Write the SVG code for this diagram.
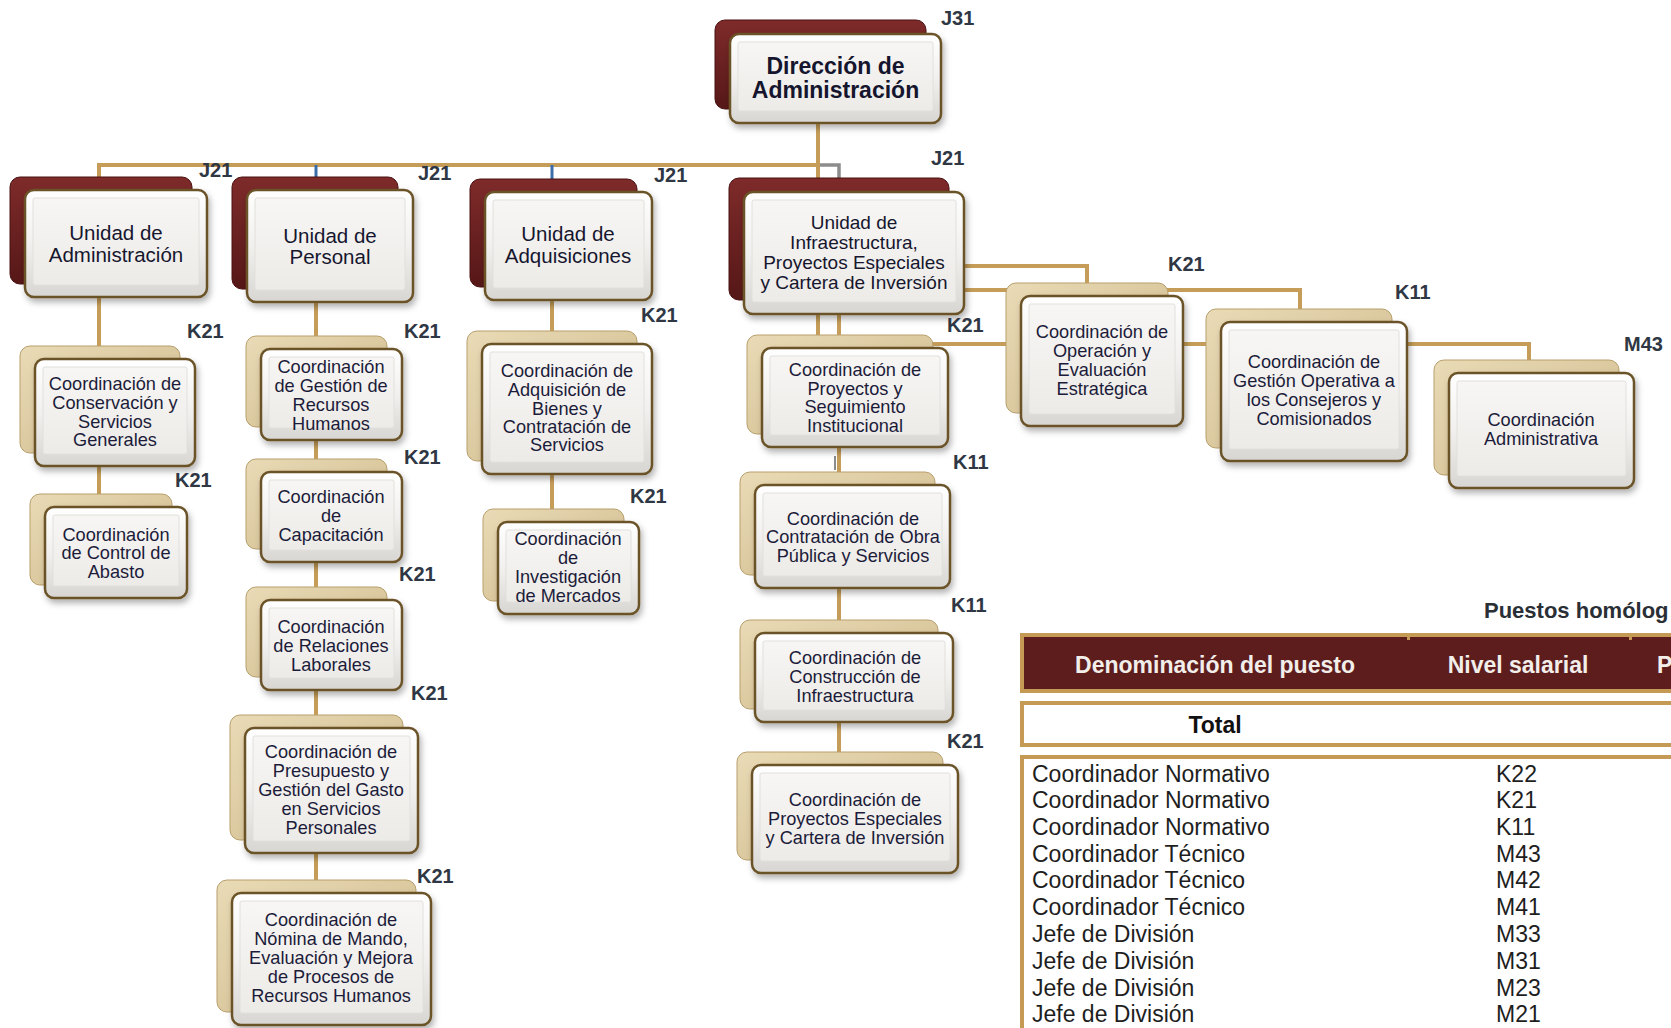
<svg xmlns="http://www.w3.org/2000/svg" width="1671" height="1028" viewBox="0 0 1671 1028">
<defs>
<linearGradient id="gRed" x1="0" y1="0" x2="0" y2="1"><stop offset="0" stop-color="#7e2b2a"/><stop offset="1" stop-color="#561717"/></linearGradient>
<linearGradient id="gTan" x1="0" y1="0" x2="1" y2="1"><stop offset="0" stop-color="#e9dbb6"/><stop offset="0.6" stop-color="#d9c69c"/><stop offset="1" stop-color="#c8b083"/></linearGradient>
<linearGradient id="gFace" x1="0" y1="0" x2="0" y2="1"><stop offset="0" stop-color="#ffffff"/><stop offset="0.5" stop-color="#f1f0ee"/><stop offset="1" stop-color="#d8d6d2"/></linearGradient>
<linearGradient id="gIn" x1="0" y1="0" x2="0" y2="1"><stop offset="0" stop-color="#f7f6f4"/><stop offset="1" stop-color="#ecebe8"/></linearGradient>
<filter id="ds" x="-10%" y="-10%" width="125%" height="130%"><feDropShadow dx="2" dy="4" stdDeviation="3" flood-color="#000" flood-opacity="0.3"/></filter>
<style>
.r{fill:url(#gRed);stroke:#4a1111;stroke-width:1}
.tn{fill:url(#gTan);stroke:#b89f6c;stroke-width:1}
.fc{fill:url(#gFace);stroke:#6b5228;stroke-width:2.5;filter:url(#ds)}
.in{fill:url(#gIn);stroke:#e2e0dc;stroke-width:1}
text{font-family:"Liberation Sans",Arial,sans-serif}
.t1{font-size:23px;font-weight:bold;fill:#15152e;text-anchor:middle}
.u{font-size:20.5px;fill:#16162e;text-anchor:middle}
.u2{font-size:19px;fill:#16162e;text-anchor:middle}
.c{font-size:18.2px;fill:#1c1c3a;text-anchor:middle}
.lbl{font-size:20px;font-weight:bold;fill:#2f3744}
.gl{fill:none;stroke:#c59d58;stroke-width:4}
.bl{fill:none;stroke:#3a6ea8;stroke-width:3}
.gy{fill:none;stroke:#8c8c8c;stroke-width:3.5}
.tb{fill:#fff;stroke:#c49a55;stroke-width:4}
.td{font-size:23px;fill:#1e1e1e}
.th{font-size:23px;font-weight:bold;fill:#f2eeea;text-anchor:middle}
</style>
</defs>
<rect width="1671" height="1028" fill="#fff"/>

<g id="connectors">
<path class="gl" d="M818 123V165H99V200"/>
<path class="bl" d="M316 165V180"/>
<path class="bl" d="M552 165V181"/>
<path class="gy" d="M820 165H839V194"/>
<path class="gl" d="M818 165V194"/>
<path class="gl" d="M99 297V360"/>
<path class="gl" d="M99 466V496"/>
<path class="gl" d="M316 302V895"/>
<path class="gl" d="M552 300V512"/>
<path class="gl" d="M818 312V340"/>
<path class="gl" d="M839 312V344H1529V362"/>
<path class="gl" d="M839 447V768"/>
<path class="gy" d="M835 456V470" style="stroke-width:2"/>
<path class="gl" d="M962 266H1087V285"/>
<path class="gl" d="M962 290H1300V311"/>
</g>

<g id="n-direccion">
<rect class="r" x="715" y="20" width="211" height="89" rx="10"/>
<rect class="fc" x="730" y="34" width="211" height="89" rx="9"/>
<rect class="in" x="738" y="42" width="195" height="69" rx="2"/>
<text class="t1" x="835.5" y="74">Dirección de</text>
<text class="t1" x="835.5" y="98">Administración</text>
</g>

<g id="n-unidad-admin">
<rect class="r" x="10" y="177" width="182" height="107" rx="10"/>
<rect class="fc" x="25" y="190" width="182" height="107" rx="9"/>
<rect class="in" x="33" y="198" width="166" height="87" rx="2"/>
<text class="u" x="116" y="240">Unidad de</text>
<text class="u" x="116" y="262">Administración</text>
</g>

<g id="n-unidad-personal">
<rect class="r" x="232" y="177" width="166" height="112" rx="10"/>
<rect class="fc" x="247" y="190" width="166" height="112" rx="9"/>
<rect class="in" x="255" y="198" width="150" height="92" rx="2"/>
<text class="u" x="330" y="243">Unidad de</text>
<text class="u" x="330" y="264">Personal</text>
</g>

<g id="n-unidad-adq">
<rect class="r" x="470" y="179" width="167" height="108" rx="10"/>
<rect class="fc" x="485" y="192" width="167" height="108" rx="9"/>
<rect class="in" x="493" y="200" width="151" height="88" rx="2"/>
<text class="u" x="568" y="241">Unidad de</text>
<text class="u" x="568" y="263">Adquisiciones</text>
</g>

<g id="n-unidad-infra">
<rect class="r" x="729" y="178" width="220" height="122" rx="10"/>
<rect class="fc" x="744" y="192" width="220" height="122" rx="9"/>
<rect class="in" x="752" y="200" width="204" height="102" rx="2"/>
<text class="u2" x="854" y="229">Unidad de</text>
<text class="u2" x="854" y="249">Infraestructura,</text>
<text class="u2" x="854" y="269">Proyectos Especiales</text>
<text class="u2" x="854" y="289">y Cartera de Inversión</text>
</g>

<g id="n-conservacion">
<rect class="tn" x="20" y="346" width="160" height="107" rx="10"/>
<rect class="fc" x="35" y="359" width="160" height="107" rx="9"/>
<rect class="in" x="43" y="367" width="144" height="87" rx="2"/>
<text class="c" x="115" y="390">Coordinación de</text>
<text class="c" x="115" y="409">Conservación y</text>
<text class="c" x="115" y="428">Servicios</text>
<text class="c" x="115" y="446">Generales</text>
</g>

<g id="n-abasto">
<rect class="tn" x="30" y="494" width="142" height="91" rx="10"/>
<rect class="fc" x="45" y="507" width="142" height="91" rx="9"/>
<rect class="in" x="53" y="515" width="126" height="71" rx="2"/>
<text class="c" x="116" y="541">Coordinación</text>
<text class="c" x="116" y="559">de Control de</text>
<text class="c" x="116" y="578">Abasto</text>
</g>

<g id="n-rrhh">
<rect class="tn" x="246" y="336" width="141" height="91" rx="10"/>
<rect class="fc" x="261" y="349" width="141" height="91" rx="9"/>
<rect class="in" x="269" y="357" width="125" height="71" rx="2"/>
<text class="c" x="331" y="373">Coordinación</text>
<text class="c" x="331" y="392">de Gestión de</text>
<text class="c" x="331" y="411">Recursos</text>
<text class="c" x="331" y="430">Humanos</text>
</g>

<g id="n-capacitacion">
<rect class="tn" x="246" y="459" width="141" height="90" rx="10"/>
<rect class="fc" x="261" y="472" width="141" height="90" rx="9"/>
<rect class="in" x="269" y="480" width="125" height="70" rx="2"/>
<text class="c" x="331" y="503">Coordinación</text>
<text class="c" x="331" y="522">de</text>
<text class="c" x="331" y="541">Capacitación</text>
</g>

<g id="n-relaciones">
<rect class="tn" x="246" y="587" width="141" height="90" rx="10"/>
<rect class="fc" x="261" y="600" width="141" height="90" rx="9"/>
<rect class="in" x="269" y="608" width="125" height="70" rx="2"/>
<text class="c" x="331" y="633">Coordinación</text>
<text class="c" x="331" y="652">de Relaciones</text>
<text class="c" x="331" y="671">Laborales</text>
</g>

<g id="n-presupuesto">
<rect class="tn" x="230" y="715" width="173" height="125" rx="10"/>
<rect class="fc" x="245" y="728" width="173" height="125" rx="9"/>
<rect class="in" x="253" y="736" width="157" height="105" rx="2"/>
<text class="c" x="331" y="758">Coordinación de</text>
<text class="c" x="331" y="777">Presupuesto y</text>
<text class="c" x="331" y="796">Gestión del Gasto</text>
<text class="c" x="331" y="815">en Servicios</text>
<text class="c" x="331" y="834">Personales</text>
</g>

<g id="n-nomina">
<rect class="tn" x="217" y="880" width="199" height="132" rx="10"/>
<rect class="fc" x="232" y="893" width="199" height="132" rx="9"/>
<rect class="in" x="240" y="901" width="183" height="112" rx="2"/>
<text class="c" x="331" y="926">Coordinación de</text>
<text class="c" x="331" y="945">Nómina de Mando,</text>
<text class="c" x="331" y="964">Evaluación y Mejora</text>
<text class="c" x="331" y="983">de Procesos de</text>
<text class="c" x="331" y="1002">Recursos Humanos</text>
</g>

<g id="n-bienes">
<rect class="tn" x="467" y="331" width="170" height="130" rx="10"/>
<rect class="fc" x="482" y="344" width="170" height="130" rx="9"/>
<rect class="in" x="490" y="352" width="154" height="110" rx="2"/>
<text class="c" x="567" y="377">Coordinación de</text>
<text class="c" x="567" y="396">Adquisición de</text>
<text class="c" x="567" y="415">Bienes y</text>
<text class="c" x="567" y="433">Contratación de</text>
<text class="c" x="567" y="451">Servicios</text>
</g>

<g id="n-mercados">
<rect class="tn" x="483" y="509" width="141" height="92" rx="10"/>
<rect class="fc" x="498" y="522" width="141" height="92" rx="9"/>
<rect class="in" x="506" y="530" width="125" height="72" rx="2"/>
<text class="c" x="568" y="545">Coordinación</text>
<text class="c" x="568" y="564">de</text>
<text class="c" x="568" y="583">Investigación</text>
<text class="c" x="568" y="602">de Mercados</text>
</g>

<g id="n-proyectos">
<rect class="tn" x="747" y="335" width="186" height="99" rx="10"/>
<rect class="fc" x="762" y="348" width="186" height="99" rx="9"/>
<rect class="in" x="770" y="356" width="170" height="79" rx="2"/>
<text class="c" x="855" y="376">Coordinación de</text>
<text class="c" x="855" y="395">Proyectos y</text>
<text class="c" x="855" y="413">Seguimiento</text>
<text class="c" x="855" y="432">Institucional</text>
</g>

<g id="n-contratacion">
<rect class="tn" x="740" y="472" width="195" height="103" rx="10"/>
<rect class="fc" x="755" y="485" width="195" height="103" rx="9"/>
<rect class="in" x="763" y="493" width="179" height="83" rx="2"/>
<text class="c" x="853" y="525">Coordinación de</text>
<text class="c" x="853" y="543">Contratación de Obra</text>
<text class="c" x="853" y="562">Pública y Servicios</text>
</g>

<g id="n-construccion">
<rect class="tn" x="740" y="620" width="198" height="89" rx="10"/>
<rect class="fc" x="755" y="633" width="198" height="89" rx="9"/>
<rect class="in" x="763" y="641" width="182" height="69" rx="2"/>
<text class="c" x="855" y="664">Coordinación de</text>
<text class="c" x="855" y="683">Construcción de</text>
<text class="c" x="855" y="702">Infraestructura</text>
</g>

<g id="n-especiales">
<rect class="tn" x="737" y="752" width="206" height="108" rx="10"/>
<rect class="fc" x="752" y="765" width="206" height="108" rx="9"/>
<rect class="in" x="760" y="773" width="190" height="88" rx="2"/>
<text class="c" x="855" y="806">Coordinación de</text>
<text class="c" x="855" y="825">Proyectos Especiales</text>
<text class="c" x="855" y="844">y Cartera de Inversión</text>
</g>

<g id="n-operacion">
<rect class="tn" x="1006" y="283" width="162" height="130" rx="10"/>
<rect class="fc" x="1021" y="296" width="162" height="130" rx="9"/>
<rect class="in" x="1029" y="304" width="146" height="110" rx="2"/>
<text class="c" x="1102" y="338">Coordinación de</text>
<text class="c" x="1102" y="357">Operación y</text>
<text class="c" x="1102" y="376">Evaluación</text>
<text class="c" x="1102" y="395">Estratégica</text>
</g>

<g id="n-gestion-op">
<rect class="tn" x="1206" y="309" width="186" height="139" rx="10"/>
<rect class="fc" x="1221" y="322" width="186" height="139" rx="9"/>
<rect class="in" x="1229" y="330" width="170" height="119" rx="2"/>
<text class="c" x="1314" y="368">Coordinación de</text>
<text class="c" x="1314" y="387">Gestión Operativa a</text>
<text class="c" x="1314" y="406">los Consejeros y</text>
<text class="c" x="1314" y="425">Comisionados</text>
</g>

<g id="n-coord-admin">
<rect class="tn" x="1434" y="360" width="185" height="115" rx="10"/>
<rect class="fc" x="1449" y="373" width="185" height="115" rx="9"/>
<rect class="in" x="1457" y="381" width="169" height="95" rx="2"/>
<text class="c" x="1541" y="426">Coordinación</text>
<text class="c" x="1541" y="445">Administrativa</text>
</g>

<g id="levels">
<text class="lbl" x="941" y="25">J31</text>
<text class="lbl" x="199" y="177">J21</text>
<text class="lbl" x="418" y="180">J21</text>
<text class="lbl" x="654" y="182">J21</text>
<text class="lbl" x="931" y="165">J21</text>
<text class="lbl" x="187" y="338">K21</text>
<text class="lbl" x="175" y="487">K21</text>
<text class="lbl" x="404" y="338">K21</text>
<text class="lbl" x="404" y="464">K21</text>
<text class="lbl" x="399" y="581">K21</text>
<text class="lbl" x="411" y="700">K21</text>
<text class="lbl" x="417" y="883">K21</text>
<text class="lbl" x="641" y="322">K21</text>
<text class="lbl" x="630" y="503">K21</text>
<text class="lbl" x="947" y="332">K21</text>
<text class="lbl" x="953" y="469">K11</text>
<text class="lbl" x="951" y="612">K11</text>
<text class="lbl" x="947" y="748">K21</text>
<text class="lbl" x="1168" y="271">K21</text>
<text class="lbl" x="1395" y="299">K11</text>
<text class="lbl" x="1624" y="351">M43</text>
</g>

<g id="table">
<text x="1484" y="618" style="font-size:22px;font-weight:bold;fill:#2a2f36">Puestos homólog</text>
<rect x="1022" y="635" width="670" height="56" fill="#5e1d1d" stroke="#c49a55" stroke-width="4"/>
<rect x="1407" y="636" width="3" height="4" fill="#c49a55"/>
<rect x="1629" y="636" width="3" height="4" fill="#c49a55"/>
<text class="th" x="1215" y="673">Denominación del puesto</text>
<text class="th" x="1518" y="673">Nivel salarial</text>
<text class="th" x="1657" y="673" style="text-anchor:start">P</text>
<rect class="tb" x="1022" y="703" width="670" height="42"/>
<text x="1215" y="733" style="font-size:23px;font-weight:bold;fill:#111;text-anchor:middle">Total</text>
<rect class="tb" x="1022" y="757" width="670" height="300"/>
<g class="td">
<text x="1032" y="782">Coordinador Normativo</text>
<text x="1032" y="808">Coordinador Normativo</text>
<text x="1032" y="835">Coordinador Normativo</text>
<text x="1032" y="862">Coordinador Técnico</text>
<text x="1032" y="888">Coordinador Técnico</text>
<text x="1032" y="915">Coordinador Técnico</text>
<text x="1032" y="942">Jefe de División</text>
<text x="1032" y="969">Jefe de División</text>
<text x="1032" y="996">Jefe de División</text>
<text x="1032" y="1022">Jefe de División</text>
<text x="1496" y="782">K22</text>
<text x="1496" y="808">K21</text>
<text x="1496" y="835">K11</text>
<text x="1496" y="862">M43</text>
<text x="1496" y="888">M42</text>
<text x="1496" y="915">M41</text>
<text x="1496" y="942">M33</text>
<text x="1496" y="969">M31</text>
<text x="1496" y="996">M23</text>
<text x="1496" y="1022">M21</text>
</g>
</g>
</svg>
